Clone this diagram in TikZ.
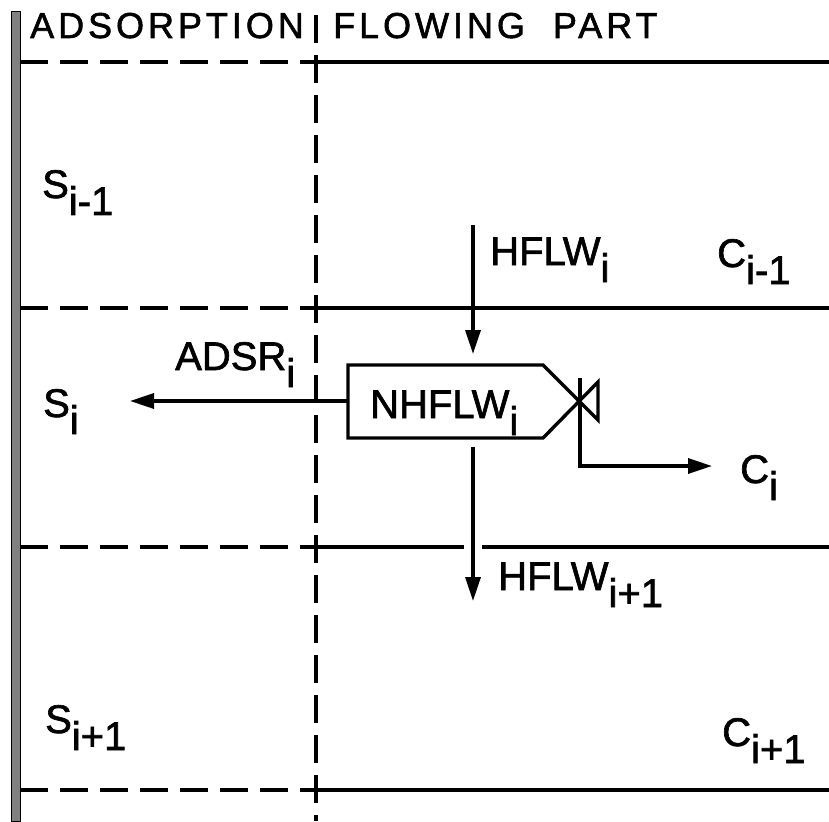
\documentclass[tikz,border=0pt]{standalone}
\usepackage{fontspec}
\setmainfont{Liberation Sans}
\newfontfamily\leroy[FakeBold=1.6]{Liberation Sans}
\usetikzlibrary{arrows.meta}
\newcommand\lsub[1]{\raisebox{-17pt}{#1}}
\newcommand\hdrfont{\leroy\fontsize{36}{36}\selectfont\addfontfeature{LetterSpace=11}}
\tikzset{
 lbl/.style={anchor=base west, inner sep=0pt, font=\leroy\fontsize{40}{40}\selectfont},
 hdr/.style={anchor=base west, inner sep=0pt, font=\hdrfont},
 ln/.style={line width=3.4pt},
 dsh/.style={line width=3.4pt, dash pattern=on 28pt off 12pt},
 arr/.style={ln, -{Triangle[length=24pt,width=15pt]}},
}
\begin{document}
\begin{tikzpicture}[x=1pt,y=-1pt]
\useasboundingbox (0,0) rectangle (829,821);
% wall
\filldraw[fill=black!50, draw=black, line width=1pt] (11,12) rectangle (20,821);
% grid
\foreach \yy in {62,308,790}{
  \draw[dsh] (20,\yy) -- (316,\yy);
  \draw[ln] (316,\yy) -- (829,\yy);
}
\draw[dsh] (20,547) -- (316,547);
\draw[ln] (316,547) -- (464,547);
\draw[ln] (482,547) -- (829,547);
\draw[dsh] (316,15) -- (316,821);
% headers
\node[hdr] (h1) at (30,38) {ADSORPTION};
\node[hdr] (h2) at (333,38) {FLOWING\hspace{14pt} PART};
% labels
\node[lbl] (s1) at (42,198) {S\lsub{i-1}};
\node[lbl] (s2) at (43,417) {S\lsub{i}};
\node[lbl] (s3) at (45,733) {S\lsub{i+1}};
\node[lbl] (hf1) at (490,265) {HFLW\lsub{i}};
\node[lbl] (c1) at (717,267) {C\lsub{i-1}};
\node[lbl] (c2) at (740,483) {C\lsub{i}};
\node[lbl] (c3) at (722,746) {C\lsub{i+1}};
\node[lbl] (hf2) at (498,590) {HFLW\lsub{i+1}};
\node[lbl] (ad) at (175,370) {ADSR\lsub{i}};
\node[lbl] (nh) at (370,418) {NHFLW\lsub{i}};
% box with valve
\coordinate (btl) at (348,365);
\coordinate (btr) at (543,365);
\coordinate (bbr) at (543,438);
\coordinate (bbl) at (348,438);
\coordinate (vr1) at (598,420);
\coordinate (vr2) at (598,382);
\draw[ln, line join=miter] (btl) -- (btr) -- (vr1) -- (vr2) -- (bbr) -- (bbl) -- cycle;
% connectors
\coordinate (inTop) at (473,225);
\coordinate (inTip) at (473,354);
\coordinate (outTop) at (473,447);
\coordinate (outTip) at (473,601);
\coordinate (adStart) at (348,401);
\coordinate (adTip) at (130,401);
\coordinate (vTop) at (580,378);
\coordinate (cTip) at (712,466);
\draw[arr] (inTop) -- (inTip);
\draw[arr] (outTop) -- (outTip);
\draw[arr] (adStart) -- (adTip);
\draw[arr] (vTop) |- (cTip);
\end{tikzpicture}
\end{document}
